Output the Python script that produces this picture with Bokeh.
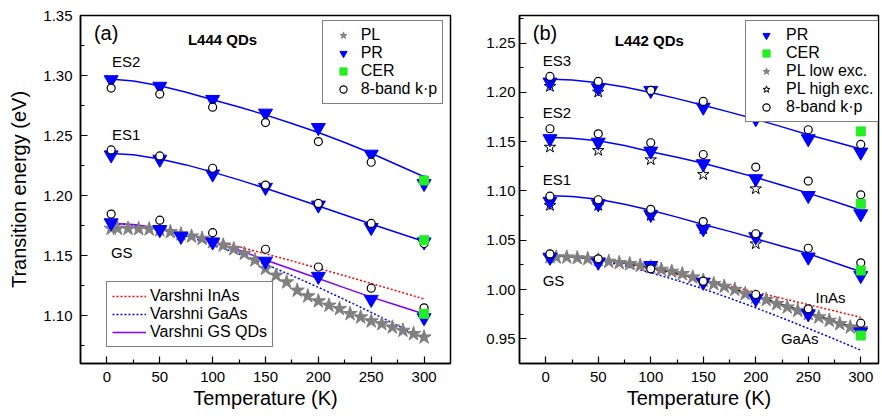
from bokeh.plotting import figure
from bokeh.layouts import row
from bokeh.models import (FixedTicker, PrintfTickFormatter, Legend, LegendItem,
                          Label, Range1d)
from bokeh.embed import file_html
from bokeh.resources import INLINE

FONT = "Liberation Sans"

# ---------------- Panel (a): L444 QDs ----------------
a_T7 = [4, 50, 100, 150, 200, 250, 300]
a_T_gs_pr = [4, 50, 70, 100, 150, 200, 250, 300]
a_es2_pr = [1.2965, 1.291, 1.280, 1.2686, 1.2566, 1.2344, 1.210]
a_es2_kp = [1.2895, 1.2845, 1.2736, 1.2608, 1.2449, 1.2277, 1.2129]
a_es1_pr = [1.2338, 1.2302, 1.2179, 1.2068, 1.192, 1.1733, 1.1613]
a_es1_kp = [1.238, 1.233, 1.2227, 1.2087, 1.1934, 1.1767, 1.160]
a_gs_pr = [1.1772, 1.1716, 1.166, 1.1613, 1.1452, 1.1326, 1.1134, 1.0981]
a_gs_kp = [1.1845, 1.1794, 1.169, 1.1552, 1.1404, 1.1228, 1.1064]
a_cer_T = [300, 300, 300]
a_cer = [1.2125, 1.1627, 1.1014]
a_pl_T = [4, 10, 20, 30, 40, 50, 60, 70, 80, 90, 100, 110, 120, 130, 140, 150,
          160, 170, 180, 190, 200, 210, 220, 230, 240, 250, 260, 270, 280, 290, 300]
a_pl = [1.1725, 1.1725, 1.1724, 1.1722, 1.172, 1.1712, 1.1697, 1.1678, 1.166,
        1.1641, 1.1613, 1.1585, 1.1555, 1.1516, 1.1462, 1.1391, 1.1334, 1.1278,
        1.1209, 1.1162, 1.112, 1.1084, 1.1056, 1.1014, 1.0986, 1.0953, 1.093,
        1.0902, 1.0875, 1.0847, 1.0819]
fit_T = [0, 25, 50, 75, 100, 125, 150, 175, 200, 225, 250, 275, 300]
a_es2_fit = [1.2972, 1.2955, 1.2915, 1.286, 1.2798, 1.2737, 1.2672, 1.26, 1.2525,
             1.2442, 1.2352, 1.2254, 1.2156]
a_es1_fit = [1.2352, 1.234, 1.2305, 1.2255, 1.2195, 1.213, 1.206, 1.1987, 1.1912,
             1.1837, 1.1762, 1.1689, 1.1617]
a_inas = [1.177, 1.1755, 1.1722, 1.1678, 1.1627, 1.1572, 1.1514, 1.1455, 1.1393,
          1.1331, 1.1267, 1.1203, 1.1138]
a_gaas = [1.177, 1.1755, 1.1717, 1.1661, 1.1592, 1.1513, 1.1427, 1.1333, 1.1235,
          1.1132, 1.1026, 1.0917, 1.0805]
a_gsqd = [1.177, 1.1758, 1.1727, 1.168, 1.1618, 1.1545, 1.1462, 1.1385, 1.1308,
          1.123, 1.1153, 1.1083, 1.1012]

# ---------------- Panel (b): L442 QDs ----------------
b_T7 = [4, 50, 100, 150, 200, 250, 300]
b_es3_pr = [1.2104, 1.2047, 1.202, 1.185, 1.1733, 1.153, 1.1394]
b_es3_kp = [1.2162, 1.2111, 1.202, 1.1908, 1.1766, 1.1621, 1.1472]
b_es3_plh_T = [4, 50]
b_es3_plh = [1.206, 1.2003]
b_es2_pr = [1.153, 1.1495, 1.1404, 1.1276, 1.1124, 1.0954, 1.0768]
b_es2_kp = [1.1631, 1.158, 1.1489, 1.137, 1.1242, 1.11, 1.0961]
b_plh_T = [4, 50, 100, 150, 200]
b_es2_plh = [1.1445, 1.1411, 1.1317, 1.1167, 1.1022]
b_es1_pr = [1.0895, 1.087, 1.0762, 1.0617, 1.0535, 1.0329, 1.0142]
b_es1_kp = [1.0947, 1.0911, 1.0814, 1.069, 1.0566, 1.0419, 1.0271]
b_es1_plh = [1.0853, 1.0853, 1.0752, 1.0617, 1.0464]
b_gs_pr = [1.0328, 1.0277, 1.0244, 1.0074, 0.9906, 0.9754, 0.957]
b_gs_kp = [1.0362, 1.0312, 1.021, 1.0085, 0.995, 0.9805, 0.9659]
b_cer_T = [300, 300, 300, 300]
b_cer = [1.1604, 1.087, 1.0193, 0.9534]
b_pl_T = [4, 10, 20, 30, 40, 50, 60, 70, 80, 90, 100, 110, 120, 130, 140, 150,
          160, 170, 180, 190, 200, 210, 220, 230, 240, 250, 260, 270, 280, 290, 300]
b_pl = [1.033, 1.0328, 1.0328, 1.032, 1.0312, 1.030, 1.0284, 1.0271, 1.026,
        1.0244, 1.0227, 1.0203, 1.0183, 1.0159, 1.0125, 1.0092, 1.0058, 1.0031,
        1.000, 0.9957, 0.9922, 0.9896, 0.9855, 0.9821, 0.9787, 0.9754, 0.972,
        0.9686, 0.9652, 0.9618, 0.9601]
b_es3_fit = [1.2135, 1.2125, 1.2098, 1.2055, 1.2, 1.1937, 1.187, 1.18, 1.1728,
             1.165, 1.157, 1.15, 1.1425]
b_es2_fit = [1.1545, 1.1535, 1.151, 1.1462, 1.1398, 1.1342, 1.1282, 1.121, 1.1138,
             1.1058, 1.0978, 1.0893, 1.0805]
b_es1_fit = [1.0955, 1.0945, 1.0915, 1.0865, 1.0805, 1.0735, 1.066, 1.059, 1.0515,
             1.044, 1.0365, 1.0272, 1.018]
b_gs_fit = [1.0345, 1.0335, 1.031, 1.027, 1.022, 1.0165, 1.0095, 1.002, 0.9935,
            0.985, 0.9765, 0.968, 0.9595]
b_inas = [1.035, 1.0335, 1.0302, 1.0258, 1.0207, 1.0152, 1.0094, 1.0035, 0.9973,
          0.9911, 0.9847, 0.9783, 0.9718]
b_gaas = [1.035, 1.0335, 1.0297, 1.0241, 1.0172, 1.0093, 1.0007, 0.9913, 0.9815,
          0.9712, 0.9606, 0.9497, 0.9385]

x_major = [0, 50, 100, 150, 200, 250, 300]
x_minor = [25, 75, 125, 175, 225, 275]
a_y_major = [1.10, 1.15, 1.20, 1.25, 1.30, 1.35]
a_y_minor = [1.075, 1.125, 1.175, 1.225, 1.275, 1.325]
b_y_major = [0.95, 1.00, 1.05, 1.10, 1.15, 1.20, 1.25]
b_y_minor = [0.925, 0.975, 1.025, 1.075, 1.125, 1.175, 1.225, 1.275]

BLUE = "#0000FF"
GREEN = "#22EE22"
GRAY = "#808080"
RED = "#FF0000"
PURPLE = "#8000FF"


def make_fig(width, xr, yr, min_left, min_right, ymaj, ymin, ylabel, ystand):
    p = figure(width=width, height=415, x_range=Range1d(*xr), y_range=Range1d(*yr),
               output_backend="svg", toolbar_location=None,
               min_border_left=min_left, min_border_right=min_right,
               min_border_top=15, min_border_bottom=52)
    p.grid.visible = False
    p.outline_line_color = "black"
    p.outline_line_width = 1.5
    p.background_fill_color = "white"
    p.border_fill_color = "white"
    p.xaxis.ticker = FixedTicker(ticks=x_major, minor_ticks=x_minor)
    p.yaxis.ticker = FixedTicker(ticks=ymaj, minor_ticks=ymin)
    p.yaxis.formatter = PrintfTickFormatter(format="%.2f")
    p.xaxis.axis_label = "Temperature (K)"
    if ylabel:
        p.yaxis.axis_label = ylabel
    for ax in (p.xaxis[0], p.yaxis[0]):
        ax.axis_line_width = 1.5
        ax.axis_line_color = "black"
        ax.major_tick_in = 7
        ax.major_tick_out = 0
        ax.minor_tick_in = 4
        ax.minor_tick_out = 0
        ax.major_tick_line_width = 1.2
        ax.minor_tick_line_width = 1.2
        ax.major_tick_line_color = "black"
        ax.minor_tick_line_color = "black"
        ax.major_label_text_font = FONT
        ax.major_label_text_font_size = "15px"
        ax.major_label_text_color = "black"
        ax.axis_label_text_font = FONT
        ax.axis_label_text_font_size = "20px"
        ax.axis_label_text_font_style = "normal"
        ax.axis_label_text_color = "black"
    p.xaxis.major_label_standoff = 8
    p.xaxis.axis_label_standoff = 2
    p.yaxis.major_label_standoff = ystand
    p.yaxis.axis_label_standoff = 10
    return p


def add_label(p, x, y, text, size="15px", style="normal"):
    p.add_layout(Label(x=x, y=y, text=text, text_font=FONT, text_font_size=size,
                       text_font_style=style, text_baseline="middle",
                       text_align="left", text_color="black"))


def legend(p, items, loc, gw, standoff):
    lg = Legend(items=items, location=loc, orientation="vertical",
                border_line_color="black", border_line_width=1,
                background_fill_color="white", background_fill_alpha=1.0,
                label_text_font=FONT, label_text_font_size="16px",
                label_text_color="black",
                glyph_width=gw, glyph_height=18, label_height=18, spacing=0,
                padding=5, margin=0, label_standoff=standoff)
    p.add_layout(lg)


# ======== Panel (a) ========
pa = make_fig(462, (-25, 325), (1.06, 1.35), 80, 12, a_y_major, a_y_minor,
              "Transition energy (eV)", 8)

pa.line(fit_T, a_es2_fit, line_color=BLUE, line_width=1.5)
pa.line(fit_T, a_es1_fit, line_color=BLUE, line_width=1.5)
r_inas = pa.line(fit_T, a_inas, line_color=RED, line_width=1.5, line_dash="2 2")
r_gaas = pa.line(fit_T, a_gaas, line_color=BLUE, line_width=1.5, line_dash="2 2")
r_gsqd = pa.line(fit_T, a_gsqd, line_color=PURPLE, line_width=1.5)
r_pl = pa.scatter(a_pl_T, a_pl, marker="star", size=15, fill_color=GRAY,
                  line_color=GRAY)
r_pr = pa.scatter(a_T7, a_es2_pr, marker="inverted_triangle", size=14,
                  fill_color=BLUE, line_color=BLUE)
pa.scatter(a_T7, a_es1_pr, marker="inverted_triangle", size=14,
           fill_color=BLUE, line_color=BLUE)
pa.scatter(a_T_gs_pr, a_gs_pr, marker="inverted_triangle", size=14,
           fill_color=BLUE, line_color=BLUE)
r_kp = pa.scatter(a_T7, a_es2_kp, marker="circle", size=8, fill_color="white",
                  line_color="black", line_width=1.2)
pa.scatter(a_T7, a_es1_kp, marker="circle", size=8, fill_color="white",
           line_color="black", line_width=1.2)
pa.scatter(a_T7, a_gs_kp, marker="circle", size=8, fill_color="white",
           line_color="black", line_width=1.2)
r_cer = pa.scatter(a_cer_T, a_cer, marker="square", size=9, fill_color=GREEN,
                   line_color=GREEN)

legend(pa, [LegendItem(label="PL", renderers=[r_pl]),
            LegendItem(label="PR", renderers=[r_pr]),
            LegendItem(label="CER", renderers=[r_cer]),
            LegendItem(label="8-band k·p", renderers=[r_kp])],
       (241.7, 258.7), 30, 3)
legend(pa, [LegendItem(label="Varshni InAs", renderers=[r_inas]),
            LegendItem(label="Varshni GaAs", renderers=[r_gaas]),
            LegendItem(label="Varshni GS QDs", renderers=[r_gsqd])],
       (26, 16.3), 34, 4)

add_label(pa, -12.3, 1.3358, "(a)", "20px")
add_label(pa, 76.6, 1.330, "L444  QDs", "15px", "bold")
add_label(pa, 4.7, 1.3115, "ES2")
add_label(pa, 4.7, 1.2505, "ES1")
add_label(pa, 3.8, 1.1527, "GS")

# ======== Panel (b) ========
pb = make_fig(420, (-25, 316.9), (0.925, 1.278), 57, 4, b_y_major, b_y_minor,
              None, 4)

pb.line(fit_T, b_es3_fit, line_color=BLUE, line_width=1.5)
pb.line(fit_T, b_es2_fit, line_color=BLUE, line_width=1.5)
pb.line(fit_T, b_es1_fit, line_color=BLUE, line_width=1.5)
pb.line(fit_T, b_inas, line_color=RED, line_width=1.5, line_dash="2 2")
pb.line(fit_T, b_gaas, line_color=BLUE, line_width=1.5, line_dash="2 2")
pb.line(fit_T, b_gs_fit, line_color="black", line_width=1.5)
rb_pl = pb.scatter(b_pl_T, b_pl, marker="star", size=15, fill_color=GRAY,
                   line_color=GRAY)
rb_plh = pb.scatter(b_es3_plh_T, b_es3_plh, marker="star", size=12,
                    fill_color="white", line_color="black", line_width=1)
pb.scatter(b_plh_T, b_es2_plh, marker="star", size=12, fill_color="white",
           line_color="black", line_width=1)
pb.scatter(b_plh_T, b_es1_plh, marker="star", size=12, fill_color="white",
           line_color="black", line_width=1)
rb_pr = pb.scatter(b_T7, b_es3_pr, marker="inverted_triangle", size=14,
                   fill_color=BLUE, line_color=BLUE)
for ys in (b_es2_pr, b_es1_pr, b_gs_pr):
    pb.scatter(b_T7, ys, marker="inverted_triangle", size=14,
               fill_color=BLUE, line_color=BLUE)
rb_kp = pb.scatter(b_T7, b_es3_kp, marker="circle", size=8, fill_color="white",
                   line_color="black", line_width=1.2)
for ys in (b_es2_kp, b_es1_kp, b_gs_kp):
    pb.scatter(b_T7, ys, marker="circle", size=8, fill_color="white",
               line_color="black", line_width=1.2)
rb_cer = pb.scatter(b_cer_T, b_cer, marker="square", size=9, fill_color=GREEN,
                    line_color=GREEN)

legend(pb, [LegendItem(label="PR", renderers=[rb_pr]),
            LegendItem(label="CER", renderers=[rb_cer]),
            LegendItem(label="PL low exc.", renderers=[rb_pl]),
            LegendItem(label="PL high exc.", renderers=[rb_plh]),
            LegendItem(label="8-band k·p", renderers=[rb_kp])],
       (226, 241.3), 30, 5)

add_label(pb, -12.4, 1.2598, "(b)", "20px")
add_label(pb, 65.7, 1.2527, "L442  QDs", "15px", "bold")
add_label(pb, -2.9, 1.2324, "ES3")
add_label(pb, -2.9, 1.1797, "ES2")
add_label(pb, -2.9, 1.1117, "ES1")
add_label(pb, -2.9, 1.0091, "GS")
add_label(pb, 257, 0.9919, "InAs")
add_label(pb, 224, 0.9503, "GaAs")

layout = row(pa, pb, spacing=0)
open("out.html", "w").write(file_html(layout, INLINE))
